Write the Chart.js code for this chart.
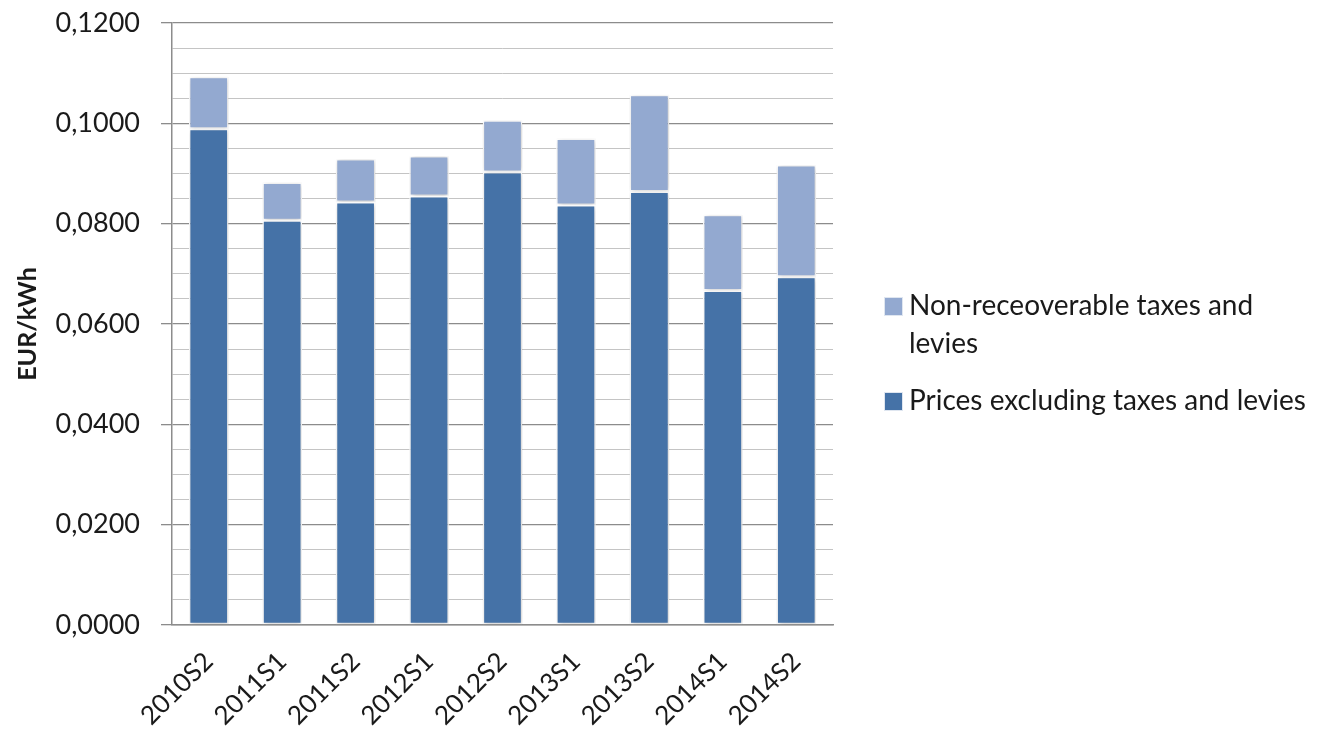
<!DOCTYPE html>
<html>
<head>
<meta charset="utf-8">
<script src="https://cdn.jsdelivr.net/npm/chart.js@4"></script>
<style>
  html, body { margin: 0; padding: 0; background: #fff; }
  #wrap { width: 1326px; height: 737px; position: relative; }
</style>
</head>
<body>
<div id="wrap"><canvas id="priceChart"></canvas></div>
<script>
// Semester labels
const periods = ['2010S2', '2011S1', '2011S2', '2012S1', '2012S2', '2013S1', '2013S2', '2014S1', '2014S2'];

// EUR/kWh, stacked: base price + taxes on top
const pricesExclTaxes = [0.0989, 0.0807, 0.0843, 0.0855, 0.0903, 0.0837, 0.0864, 0.0667, 0.0694];
const nonRecoverableTaxes = [0.0104, 0.0075, 0.0086, 0.0080, 0.0103, 0.0133, 0.0193, 0.0151, 0.0223];

// Legend text, one entry per line
const taxesLabel = ['Non-receoverable taxes and', 'levies'];
const pricesLabel = ['Prices excluding taxes and levies'];

const FONT = 'Lato, "Open Sans", sans-serif';
const colors = {
    prices: '#4572A7',
    taxes: '#93A9D0',
    grid: '#C4C4C4',
    gridMajor: '#8C8C8C'
};

const fmt = v => v.toFixed(4).replace('.', ',');
const isMajor = v => Math.abs(Math.round(v / 0.02) * 0.02 - v) < 1e-9;

// soft drop shadow under the bars
const barShadow = {
    id: 'barShadow',
    beforeDatasetsDraw(chart) {
        const ctx = chart.ctx;
        ctx.save();
        ctx.shadowColor = 'rgba(0,0,0,0.22)';
        ctx.shadowBlur = 5;
        ctx.shadowOffsetX = 1;
        ctx.shadowOffsetY = 1;
    },
    afterDatasetsDraw(chart) {
        chart.ctx.restore();
    }
};

// right-hand legend with wrapped text
const sideLegend = {
    id: 'sideLegend',
    afterDraw(chart) {
        const ctx = chart.ctx;
        const entries = [
            { color: colors.taxes, lines: taxesLabel, y: 306 },
            { color: colors.prices, lines: pricesLabel, y: 401 }
        ];
        ctx.save();
        ctx.font = '28px ' + FONT;
        ctx.textBaseline = 'middle';
        entries.forEach(e => {
            ctx.fillStyle = e.color;
            ctx.fillRect(885, e.y - 8, 17, 17);
            ctx.strokeStyle = '#dfe6f0';
            ctx.lineWidth = 1;
            ctx.strokeRect(884.5, e.y - 8.5, 18, 18);
            ctx.fillStyle = '#1a1a1a';
            e.lines.forEach((t, i) => ctx.fillText(t, 909, e.y + i * 38));
        });
        ctx.restore();
    }
};

const ctx = document.getElementById('priceChart').getContext('2d');
new Chart(ctx, {
    type: 'bar',
    data: {
        labels: periods,
        datasets: [
            {
                label: pricesLabel.join(' '),
                data: pricesExclTaxes,
                backgroundColor: colors.prices,
                borderColor: '#ffffff',
                borderWidth: 1.5,
                borderSkipped: false
            },
            {
                label: taxesLabel.join(' '),
                data: nonRecoverableTaxes,
                backgroundColor: colors.taxes,
                borderColor: '#ffffff',
                borderWidth: 1.5,
                borderSkipped: false
            }
        ]
    },
    options: {
        responsive: true,
        maintainAspectRatio: false,
        animation: false,
        layout: { padding: { top: 23, right: 493, left: 13, bottom: 0 } },
        datasets: { bar: { barPercentage: 0.54, categoryPercentage: 1 } },
        plugins: {
            legend: { display: false },
            tooltip: { enabled: false }
        },
        scales: {
            x: {
                stacked: true,
                grid: { display: false, drawTicks: false },
                border: { color: colors.gridMajor, width: 1.5 },
                ticks: {
                    color: '#1a1a1a',
                    font: { family: FONT, size: 26 },
                    minRotation: 45,
                    maxRotation: 45,
                    padding: 21
                },
                afterFit(scale) { scale.height = 112; }
            },
            y: {
                stacked: true,
                min: 0,
                max: 0.12,
                border: { color: colors.gridMajor, width: 1.5 },
                grid: {
                    color: c => isMajor(c.tick.value) ? colors.gridMajor : colors.grid,
                    lineWidth: c => isMajor(c.tick.value) ? 1.3 : 1,
                    tickColor: c => isMajor(c.tick.value) ? colors.gridMajor : 'rgba(0,0,0,0)',
                    tickLength: 11
                },
                ticks: {
                    stepSize: 0.005,
                    autoSkip: false,
                    color: '#1a1a1a',
                    padding: 21,
                    font: { family: FONT, size: 27 },
                    callback: v => isMajor(v) ? fmt(v) : ''
                },
                title: {
                    display: true,
                    text: 'EUR/kWh',
                    color: '#1a1a1a',
                    font: { family: FONT, size: 25, weight: 'bold' },
                    padding: { top: 0, bottom: 0 }
                },
                afterFit(scale) {
                    scale.width = 159;
                    scale.paddingTop = 0;
                    scale.paddingBottom = 0;
                }
            }
        }
    },
    plugins: [barShadow, sideLegend]
});
</script>
</body>
</html>
